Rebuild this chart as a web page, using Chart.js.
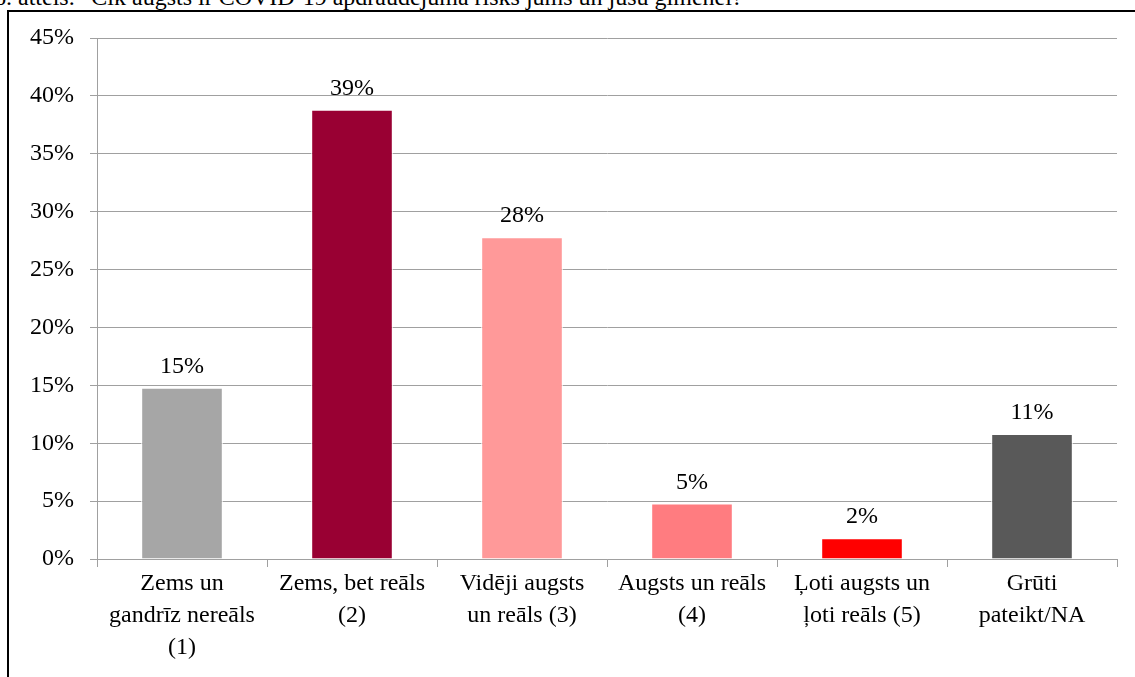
<!DOCTYPE html>
<html>
<head>
<meta charset="utf-8">
<script src="https://cdn.jsdelivr.net/npm/chart.js@4.4.1/dist/chart.umd.min.js"></script>
<style>
  html, body { margin: 0; padding: 0; background: #fff; overflow: hidden; }
  #wrap { position: relative; width: 1135px; height: 677px; }
  #title {
    position: absolute; left: -6px; top: -16px; white-space: nowrap;
    font-family: "Liberation Serif", "Times New Roman", serif; font-size: 24px; color: #000;
  }
  #frame {
    position: absolute; left: 7px; top: 10px; width: 1140px; height: 700px;
    border-left: 2px solid #000; border-top: 2px solid #000;
  }
  #c { position: absolute; left: 0; top: 0; }
</style>
</head>
<body>
<div id="wrap">
  <div id="title">6. attēls. “Cik augsts ir COVID-19 apdraudējuma risks jums un jūsu ģimenei?”</div>
  <div id="frame"></div>
  <canvas id="c" width="1135" height="677"></canvas>
</div>
<script>
// categories and values
const categories = [
  ["Zems un", "gandrīz nereāls", "(1)"],
  ["Zems, bet reāls", "(2)"],
  ["Vidēji augsts", "un reāls (3)"],
  ["Augsts un reāls", "(4)"],
  ["Ļoti augsts un", "ļoti reāls (5)"],
  ["Grūti", "pateikt/NA"],
];
const values = [14.8, 38.8, 27.8, 4.8, 1.8, 10.8];
const barColors = ["#a6a6a6", "#990033", "#ff9999", "#ff7c80", "#ff0000", "#595959"];
const yTicks = [0, 5, 10, 15, 20, 25, 30, 35, 40, 45];

const serif = '"Liberation Serif", "Times New Roman", serif';

// value labels above bars
const valueLabels = {
  id: "valueLabels",
  afterDatasetsDraw(chart) {
    const ctx = chart.ctx;
    const meta = chart.getDatasetMeta(0);
    ctx.save();
    ctx.font = "24px " + serif;
    ctx.fillStyle = "#000";
    ctx.textAlign = "center";
    ctx.textBaseline = "bottom";
    meta.data.forEach((bar, i) => {
      ctx.fillText(Math.round(values[i]) + "%", bar.x, bar.y - 9);
    });
    ctx.restore();
  },
};

new Chart(document.getElementById("c"), {
  type: "bar",
  data: {
    labels: categories,
    datasets: [
      {
        data: values,
        backgroundColor: barColors,
        borderColor: "#ffffff",
        borderWidth: 1,
        categoryPercentage: 1,
        barPercentage: 0.48,
      },
    ],
  },
  options: {
    responsive: false,
    animation: false,
    events: [],
    layout: { padding: { left: 10, right: 18, top: 38, bottom: 8 } },
    plugins: { legend: { display: false }, tooltip: { enabled: false } },
    scales: {
      x: {
        afterFit: (s) => { s.height = 110; },
        grid: { drawOnChartArea: false, drawTicks: true, tickLength: 8, color: "#a0a0a0", offset: true },
        border: { color: "#a0a0a0", width: 1 },
        ticks: { color: "#000", font: { family: serif, size: 24, lineHeight: 1.33 }, maxRotation: 0, padding: 1 },
      },
      y: {
        min: 0,
        max: 45,
        afterFit: (s) => { s.width = 87; },
        afterBuildTicks: (s) => { s.ticks = yTicks.map((v) => ({ value: v })); },
        grid: { color: "#a0a0a0", tickLength: 7 },
        border: { color: "#a0a0a0", width: 1 },
        ticks: {
          color: "#000",
          font: { family: serif, size: 24 },
          padding: 16,
          callback: (v) => v + "%",
        },
      },
    },
  },
  plugins: [valueLabels],
});
</script>
</body>
</html>
